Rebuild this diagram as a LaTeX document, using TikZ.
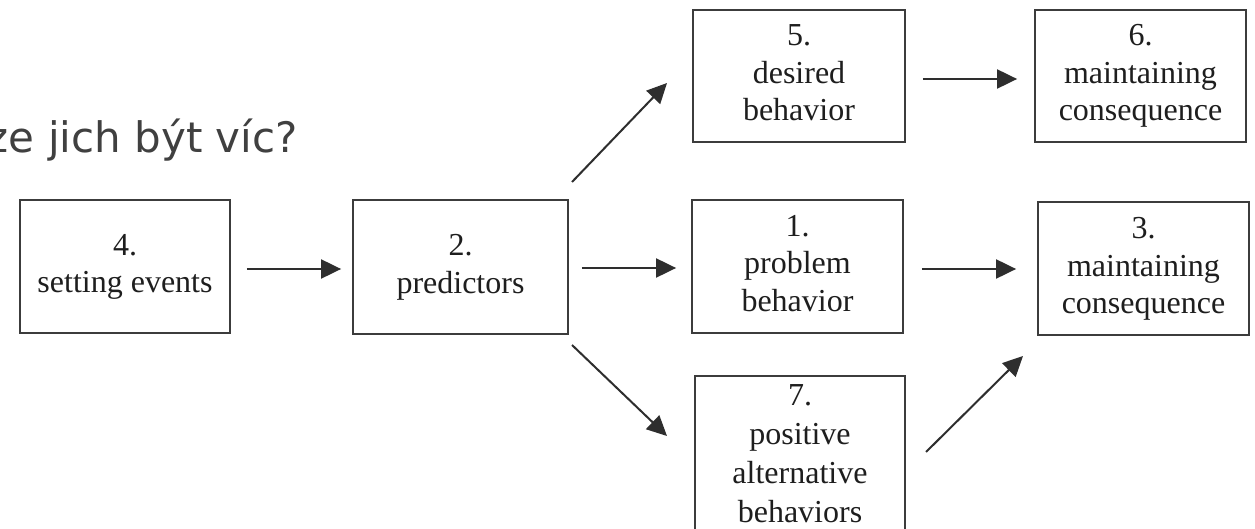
\documentclass[tikz,border=0pt]{standalone}
\usepackage{fontspec}
\setmainfont{Liberation Serif}
\newfontfamily\titlefont{DejaVu Sans}
\usetikzlibrary{arrows.meta}
\definecolor{boxgray}{HTML}{3C3C3C}
\definecolor{arrowgray}{HTML}{2E2E2E}
\definecolor{textblack}{HTML}{1E1E1E}
\definecolor{titlegray}{HTML}{404040}
\begin{document}
\begin{tikzpicture}[x=1pt,y=-1pt,
  box/.style={draw=boxgray, line width=1.8pt, inner sep=0pt, align=center,
    font=\fontsize{32}{37.5}\selectfont, text=textblack},
  conn/.style={draw=arrowgray, line width=2pt, -{Triangle[length=20pt,width=19pt]}}]
\useasboundingbox (0,0) rectangle (1255,529);
\clip (0,0) rectangle (1255,529);
\fill[white] (0,0) rectangle (1255,529);

% title
\node[font=\titlefont\fontsize{42}{50}\selectfont, text=titlegray, anchor=base east, inner sep=0pt]
  (title) at (298,153) {ze jich být víc?};

% boxes
\node[box, minimum width=210pt, minimum height=133pt] (n4) at (125,266.5)
  {\strut 4.\\\strut setting events};
\node[box, minimum width=215pt, minimum height=134pt] (n2) at (460.5,267)
  {\strut 2.\\\strut predictors};
\node[box, minimum width=212pt, minimum height=132pt] (n5) at (799,76)
  {\strut 5.\\\strut desired\\\strut behavior};
\node[box, minimum width=211pt, minimum height=132pt] (n6) at (1140.5,76)
  {\strut 6.\\\strut maintaining\\\strut consequence};
\node[box, minimum width=211pt, minimum height=133pt] (n1) at (797.5,266.5)
  {\strut 1.\\\strut problem\\\strut behavior};
\node[box, minimum width=211pt, minimum height=133pt] (n3) at (1143.5,268.5)
  {\strut 3.\\\strut maintaining\\\strut consequence};
\node[box, minimum width=210pt, minimum height=160pt, font=\fontsize{32}{39}\selectfont] (n7) at (800,456)
  {\strut 7.\\\strut positive\\\strut alternative\\\strut behaviors};

% free ends of the diagonal connectors
\coordinate (d25s) at (572,182);
\coordinate (d25e) at (667,83);
\coordinate (d27s) at (572,345);
\coordinate (d27e) at (667,436);
\coordinate (d73s) at (926,452);
\coordinate (d73e) at (1023,356);

% connectors
\draw[conn, shorten <=16pt, shorten >=11pt] ([yshift=-2.5pt]n4.east) -- ([yshift=-2.5pt]n2.west |- n4.east);
\draw[conn, shorten <=13pt, shorten >=15pt] ([yshift=-1pt]n2.east) -- ([yshift=-1pt]n1.west |- n2.east);
\draw[conn, shorten <=18pt, shorten >=21pt] ([yshift=-2.5pt]n1.east) -- ([yshift=-2.5pt]n3.west |- n1.east);
\draw[conn, shorten <=17pt, shorten >=17pt] ([yshift=-3pt]n5.east) -- ([yshift=-3pt]n6.west |- n5.east);
\draw[conn] (d25s) -- (d25e);
\draw[conn] (d27s) -- (d27e);
\draw[conn] (d73s) -- (d73e);
\end{tikzpicture}
\end{document}
